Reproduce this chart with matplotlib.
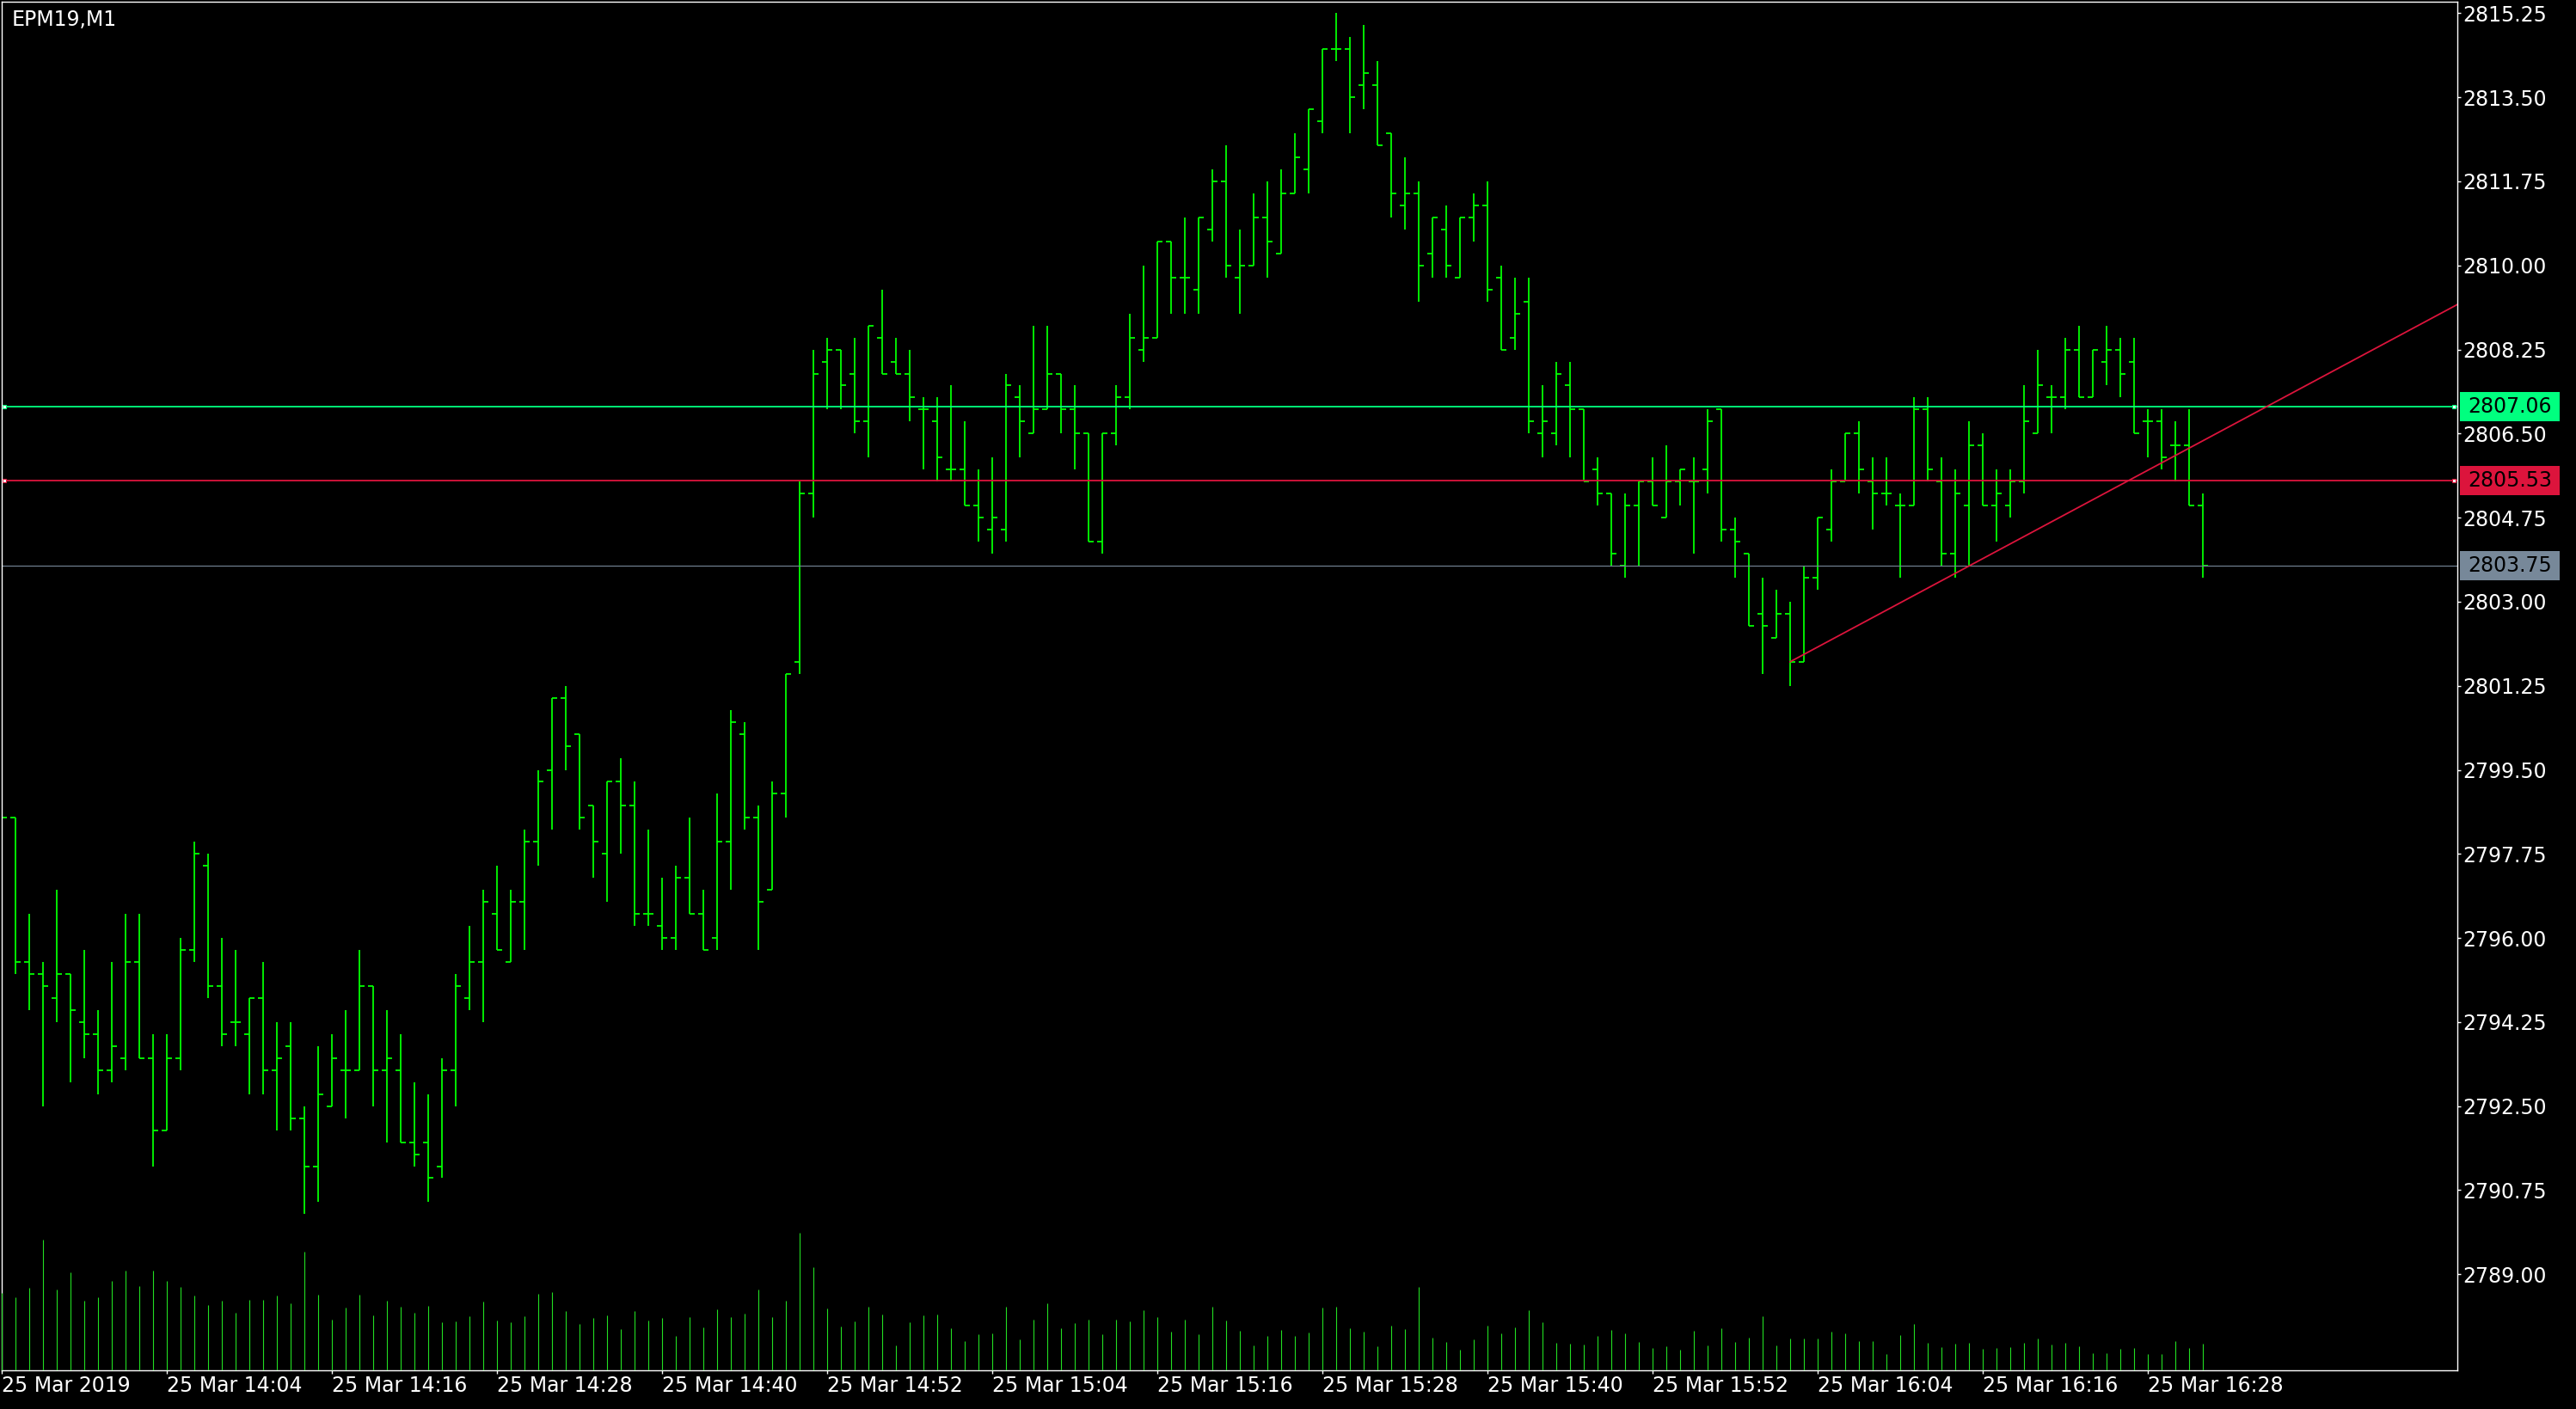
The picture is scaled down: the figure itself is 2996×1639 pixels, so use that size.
import numpy as np
import matplotlib.pyplot as plt
import matplotlib.transforms as mtransforms
from matplotlib.patches import Rectangle

# ---------- data ----------
symbol = 'EPM19,M1'

# one bar per minute, 13:52 .. 16:32
opens = [2798.50, 2798.50, 2795.50, 2795.25, 2794.75, 2795.25, 2794.25, 2794.00, 2793.25, 2793.50,
         2795.50, 2793.50, 2792.00, 2793.50, 2795.75, 2797.50, 2795.00, 2794.25, 2794.00, 2794.75,
         2793.25, 2793.75, 2792.25, 2791.25, 2792.50, 2793.25, 2793.25, 2795.00, 2793.25, 2793.25,
         2791.75, 2791.75, 2791.25, 2793.25, 2794.75, 2795.50, 2796.50, 2795.50, 2796.75, 2798.00,
         2799.50, 2801.00, 2800.25, 2798.75, 2797.75, 2799.25, 2798.75, 2796.50, 2796.25, 2796.00,
         2797.25, 2796.50, 2796.00, 2798.00, 2800.25, 2798.50, 2797.00, 2799.00, 2801.75, 2805.25,
         2808.00, 2808.25, 2807.75, 2806.75, 2808.50, 2808.00, 2807.75, 2807.00, 2806.75, 2805.75,
         2805.75, 2805.00, 2804.50, 2804.50, 2807.25, 2806.50, 2807.00, 2807.75, 2807.00, 2806.50,
         2804.25, 2806.50, 2807.25, 2808.25, 2808.50, 2810.50, 2809.75, 2809.50, 2810.75, 2811.75,
         2809.75, 2810.00, 2811.00, 2810.25, 2811.50, 2812.00, 2813.00, 2814.50, 2814.50, 2813.75,
         2813.75, 2812.75, 2811.25, 2811.50, 2810.25, 2810.75, 2809.75, 2811.00, 2811.25, 2809.75,
         2808.50, 2809.25, 2806.50, 2806.50, 2807.50, 2807.00, 2805.75, 2805.25, 2803.75, 2805.00,
         2805.50, 2804.75, 2805.50, 2805.50, 2805.75, 2807.00, 2804.50, 2804.00, 2802.75, 2802.25,
         2802.75, 2801.75, 2803.50, 2804.50, 2805.50, 2806.50, 2805.50, 2805.25, 2805.00, 2805.00,
         2807.00, 2805.50, 2804.00, 2805.00, 2806.25, 2805.00, 2805.00, 2805.50, 2806.50, 2807.25,
         2807.25, 2808.25, 2807.25, 2808.00, 2808.25, 2808.00, 2806.75, 2806.75, 2806.25, 2806.25,
         2805.00]
highs = [2798.50, 2798.50, 2796.50, 2795.50, 2797.00, 2795.25, 2795.75, 2794.50, 2795.50, 2796.50,
         2796.50, 2794.00, 2794.00, 2796.00, 2798.00, 2797.75, 2796.00, 2795.75, 2794.75, 2795.50,
         2794.25, 2794.25, 2792.50, 2793.75, 2794.00, 2794.50, 2795.75, 2795.00, 2794.50, 2794.00,
         2793.00, 2792.75, 2793.50, 2795.25, 2796.25, 2797.00, 2797.50, 2797.00, 2798.25, 2799.50,
         2801.00, 2801.25, 2800.25, 2798.75, 2799.25, 2799.75, 2799.25, 2798.25, 2797.25, 2797.50,
         2798.50, 2797.00, 2799.00, 2800.75, 2800.50, 2798.75, 2799.25, 2801.50, 2805.50, 2808.25,
         2808.50, 2808.25, 2808.50, 2808.75, 2809.50, 2808.50, 2808.25, 2807.25, 2807.25, 2807.50,
         2806.75, 2805.75, 2806.00, 2807.75, 2807.50, 2808.75, 2808.75, 2807.75, 2807.50, 2806.50,
         2806.50, 2807.50, 2809.00, 2810.00, 2810.50, 2810.50, 2811.00, 2811.00, 2812.00, 2812.50,
         2810.75, 2811.50, 2811.75, 2812.00, 2812.75, 2813.25, 2814.50, 2815.25, 2814.75, 2815.00,
         2814.25, 2812.75, 2812.25, 2811.75, 2811.00, 2811.25, 2811.00, 2811.50, 2811.75, 2810.00,
         2809.75, 2809.75, 2807.50, 2808.00, 2808.00, 2807.00, 2806.00, 2805.25, 2805.25, 2805.50,
         2806.00, 2806.25, 2805.75, 2806.00, 2807.00, 2807.00, 2804.75, 2804.00, 2803.50, 2803.25,
         2803.00, 2803.75, 2804.75, 2805.75, 2806.50, 2806.75, 2806.00, 2806.00, 2805.25, 2807.25,
         2807.25, 2806.00, 2805.75, 2806.75, 2806.50, 2805.75, 2805.75, 2807.50, 2808.25, 2807.50,
         2808.50, 2808.75, 2808.25, 2808.75, 2808.50, 2808.50, 2807.00, 2807.00, 2806.75, 2807.00,
         2805.25]
lows = [2798.50, 2795.25, 2794.50, 2792.50, 2794.25, 2793.00, 2793.50, 2792.75, 2793.00, 2793.25,
        2793.50, 2791.25, 2792.00, 2793.25, 2795.50, 2794.75, 2793.75, 2793.75, 2792.75, 2792.75,
        2792.00, 2792.00, 2790.25, 2790.50, 2792.50, 2792.25, 2793.25, 2792.50, 2791.75, 2791.75,
        2791.25, 2790.50, 2791.00, 2792.50, 2794.50, 2794.25, 2795.75, 2795.50, 2795.75, 2797.50,
        2798.25, 2799.50, 2798.25, 2797.25, 2796.75, 2797.75, 2796.25, 2796.25, 2795.75, 2795.75,
        2796.50, 2795.75, 2795.75, 2797.00, 2798.25, 2795.75, 2797.00, 2798.50, 2801.50, 2804.75,
        2807.00, 2807.00, 2806.50, 2806.00, 2807.75, 2807.75, 2806.75, 2805.75, 2805.50, 2805.50,
        2805.00, 2804.25, 2804.00, 2804.25, 2806.00, 2806.50, 2807.00, 2806.50, 2805.75, 2804.25,
        2804.00, 2806.25, 2807.00, 2808.00, 2808.50, 2809.00, 2809.00, 2809.00, 2810.50, 2809.75,
        2809.00, 2810.00, 2809.75, 2810.25, 2811.50, 2811.50, 2812.75, 2814.25, 2812.75, 2813.25,
        2812.50, 2811.00, 2810.75, 2809.25, 2809.75, 2809.75, 2809.75, 2810.50, 2809.25, 2808.25,
        2808.25, 2806.50, 2806.00, 2806.25, 2806.00, 2805.50, 2805.00, 2803.75, 2803.50, 2803.75,
        2805.00, 2804.75, 2805.00, 2804.00, 2805.25, 2804.25, 2803.50, 2802.50, 2801.50, 2802.25,
        2801.25, 2801.75, 2803.25, 2804.25, 2805.50, 2805.25, 2804.50, 2805.00, 2803.50, 2805.00,
        2805.50, 2803.75, 2803.50, 2803.75, 2805.00, 2804.25, 2804.75, 2805.25, 2806.50, 2806.50,
        2807.00, 2807.25, 2807.25, 2807.50, 2807.25, 2806.50, 2806.00, 2805.75, 2805.50, 2805.00,
        2803.50]
closes = [2798.50, 2795.50, 2795.25, 2795.00, 2795.25, 2794.50, 2794.00, 2793.25, 2793.75, 2795.50,
          2793.50, 2792.00, 2793.50, 2795.75, 2797.75, 2795.00, 2794.00, 2794.25, 2794.75, 2793.25,
          2793.50, 2792.25, 2791.25, 2792.75, 2793.50, 2793.25, 2795.00, 2793.25, 2793.50, 2791.75,
          2791.50, 2791.00, 2793.25, 2795.00, 2795.50, 2796.75, 2795.75, 2796.75, 2798.00, 2799.25,
          2801.00, 2800.00, 2798.50, 2798.00, 2799.25, 2798.75, 2796.50, 2796.50, 2796.00, 2797.25,
          2796.50, 2795.75, 2798.00, 2800.50, 2798.50, 2796.75, 2799.00, 2801.50, 2805.25, 2807.75,
          2808.25, 2807.50, 2806.75, 2808.75, 2807.75, 2807.75, 2807.25, 2807.00, 2806.00, 2805.75,
          2805.00, 2804.75, 2804.75, 2807.50, 2806.75, 2807.00, 2807.75, 2807.00, 2806.50, 2804.25,
          2806.50, 2807.25, 2808.50, 2808.50, 2810.50, 2809.75, 2809.75, 2811.00, 2811.75, 2810.00,
          2810.00, 2811.00, 2810.50, 2811.50, 2812.25, 2813.25, 2814.50, 2814.50, 2813.50, 2814.00,
          2812.50, 2811.50, 2811.50, 2810.00, 2811.00, 2810.00, 2811.00, 2811.25, 2809.50, 2808.25,
          2809.00, 2806.75, 2806.75, 2807.75, 2807.00, 2805.50, 2805.25, 2804.00, 2805.00, 2805.50,
          2805.00, 2805.50, 2805.75, 2805.50, 2806.75, 2804.50, 2804.25, 2802.50, 2802.50, 2802.75,
          2801.75, 2803.50, 2804.75, 2805.50, 2806.50, 2805.75, 2805.25, 2805.25, 2805.00, 2807.00,
          2805.75, 2804.00, 2805.25, 2806.25, 2805.00, 2805.25, 2805.50, 2806.75, 2807.50, 2807.25,
          2808.25, 2807.25, 2808.25, 2808.25, 2807.75, 2806.50, 2806.75, 2806.00, 2806.25, 2805.00,
          2803.75]
# tick volume, drawn in the bottom strip (relative units)
volume = [90, 85, 96, 152, 94, 114, 81, 85, 104, 116, 98, 116, 104, 97, 87, 76, 81, 67, 82, 82,
          87, 78, 138, 88, 59, 73, 88, 64, 81, 74, 67, 75, 56, 57, 63, 80, 58, 56, 63, 89,
          91, 69, 54, 61, 64, 48, 69, 58, 61, 40, 62, 50, 71, 62, 66, 94, 62, 81, 160, 120,
          72, 51, 57, 74, 65, 29, 56, 64, 65, 49, 34, 42, 43, 74, 36, 59, 78, 49, 55, 59,
          42, 59, 57, 70, 62, 45, 59, 42, 74, 58, 46, 29, 40, 47, 40, 44, 73, 74, 49, 45,
          28, 52, 48, 97, 38, 33, 24, 36, 52, 43, 50, 70, 56, 32, 31, 30, 40, 47, 43, 33,
          26, 28, 24, 46, 29, 49, 33, 38, 63, 29, 37, 37, 37, 45, 43, 34, 34, 19, 41, 54,
          32, 27, 31, 32, 25, 26, 27, 32, 37, 30, 32, 28, 20, 20, 25, 26, 19, 19, 34, 26,
          31]

time_ticks = [0, 12, 24, 36, 48, 60, 72, 84, 96, 108, 120, 132, 144, 156]
time_labels = ['25 Mar 2019', '25 Mar 14:04', '25 Mar 14:16', '25 Mar 14:28', '25 Mar 14:40',
               '25 Mar 14:52', '25 Mar 15:04', '25 Mar 15:16', '25 Mar 15:28', '25 Mar 15:40',
               '25 Mar 15:52', '25 Mar 16:04', '25 Mar 16:16', '25 Mar 16:28']
price_ticks = [2789.00, 2790.75, 2792.50, 2794.25, 2796.00, 2797.75, 2799.50, 2801.25,
               2803.00, 2804.75, 2806.50, 2808.25, 2810.00, 2811.75, 2813.50, 2815.25]

level_prices = [2807.06, 2805.53]
level_colors = ['#00FF7F', '#DC143C']
bid = 2803.75
bid_color = '#778899'
trend_x = [130, 160]
trend_y = [2801.75, 2806.35]

bar_color = '#00FF00'

# ---------- figure ----------
W, H = 2996, 1639
fig = plt.figure(figsize=(W / 100, H / 100), dpi=100, facecolor='black')
rect = [2 / W, 45 / H, 2856 / W, 1592 / H]
ax = fig.add_axes(rect)
ax.set_facecolor('black')

x = np.arange(len(closes))
xmax = 178.5

# volume strip in its own transparent axes
vax = fig.add_axes(rect, sharex=ax)
vax.patch.set_visible(False)
vax.axis('off')
vax.vlines(x, 0, volume, color='#22DD22', lw=0.8)
vax.set_ylim(0, 1592)

# OHLC bars
ax.vlines(x, lows, highs, color=bar_color, lw=1.3)
ax.hlines(opens, x - 0.4, x, color=bar_color, lw=1.3)
ax.hlines(closes, x, x + 0.4, color=bar_color, lw=1.3)

# horizontal levels and bid line
blend = mtransforms.blended_transform_factory(ax.transAxes, ax.transData)
for p, c in zip(level_prices, level_colors):
    ax.axhline(p, color=c, lw=1.3)
    ax.plot([0.001, 0.9985], [p, p], transform=blend, ls='none', marker='s', ms=3.5,
            mfc='white', mec=c, mew=0.8, clip_on=False)
ax.axhline(bid, color=bid_color, lw=0.8)

# trend line (ray to the right)
slope = (trend_y[1] - trend_y[0]) / (trend_x[1] - trend_x[0])
tx = np.array([trend_x[0], xmax])
ax.plot(tx, trend_y[0] + slope * (tx - trend_x[0]), color='#DC143C', lw=1.3)

ax.set_xlim(0, xmax)
ax.set_ylim(2787.0, 2815.49)

# axes styling
for s in ax.spines.values():
    s.set_color('white')
    s.set_linewidth(1.0)
ax.yaxis.tick_right()
ax.set_yticks(price_ticks)
ax.set_yticklabels(['%.2f' % v for v in price_ticks])
ax.set_xticks(time_ticks)
ax.set_xticklabels(time_labels)
for lbl in ax.get_xticklabels():
    lbl.set_ha('left')
ax.tick_params(axis='both', colors='white', labelsize=17, length=3, width=1, pad=1.5)

# price tags on the right scale
box_h = 34 / 55.87
for p, c in [(level_prices[0], level_colors[0]), (level_prices[1], level_colors[1]), (bid, bid_color)]:
    ax.add_patch(Rectangle((1.00105, p - box_h / 2), 116 / 2856, box_h, transform=blend,
                           facecolor=c, edgecolor='none', clip_on=False, zorder=5))
    ax.text(1.0214, p, '%.2f' % p, transform=blend, ha='center', va='center',
            fontsize=17, color='black', zorder=6, clip_on=False)

fig.text(14 / W, 1 - 11 / H, symbol, color='white', fontsize=17, ha='left', va='top')

fig.savefig('out.png', dpi=100, facecolor='black')
